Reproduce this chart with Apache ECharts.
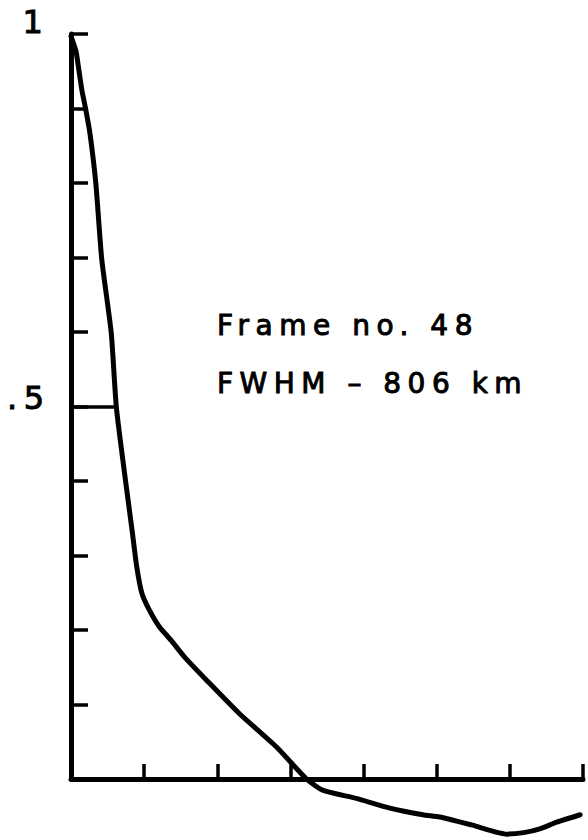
<!DOCTYPE html>
<html>
<head>
<meta charset="utf-8">
<script src="https://cdn.jsdelivr.net/npm/echarts@6/dist/echarts.min.js"></script>
<style>
  html, body { margin: 0; padding: 0; background: #fff; }
  #chart { width: 588px; height: 840px; }
  #chart text { letter-spacing: 6.5px; }
</style>
</head>
<body>
<div id="chart"></div>
<script>
// Profile (normalised intensity vs distance, arbitrary x units)
const xValues = [0, 0.068, 0.11, 0.15, 0.205, 0.26, 0.34, 0.42, 0.55, 0.62, 0.75, 0.84, 0.90, 0.97, 1.07, 1.21, 1.37, 1.55, 1.85, 2.30, 2.81, 3.22, 3.44, 3.90, 4.36, 4.81, 5.04, 5.49, 5.96, 6.19, 6.41, 6.64, 6.96];
const yValues = [0.997, 0.977, 0.950, 0.924, 0.897, 0.866, 0.799, 0.698, 0.599, 0.499, 0.397, 0.330, 0.284, 0.249, 0.227, 0.204, 0.186, 0.164, 0.133, 0.088, 0.043, 0.0, -0.015, -0.026, -0.039, -0.048, -0.051, -0.062, -0.074, -0.072, -0.067, -0.058, -0.048];
const halfMax = 0.5;
const halfMaxX = 0.62;
const yTickLabels = { '1': '1', '0.5': '.5' };
const annotationLines = ['Frame no. 48', 'FWHM – 806 km'];

const data = xValues.map((x, i) => [x, yValues[i]]);

const chart = echarts.init(document.getElementById('chart'), null, { renderer: 'svg' });
chart.setOption({
  backgroundColor: '#ffffff',
  animation: false,
  grid: { left: 71, right: 5, top: 34, bottom: 61, containLabel: false },
  xAxis: {
    type: 'value', min: 0, max: 7, interval: 1,
    axisLine: { show: true, onZero: false, lineStyle: { color: '#000', width: 5 } },
    axisTick: { show: true, inside: true, length: 15, lineStyle: { color: '#000', width: 3.5 } },
    axisLabel: { show: false },
    splitLine: { show: false }
  },
  yAxis: {
    type: 'value', min: 0, max: 1, interval: 0.1,
    axisLine: { show: true, lineStyle: { color: '#000', width: 5 } },
    axisTick: { show: true, inside: true, length: 17, lineStyle: { color: '#000', width: 3.5 } },
    axisLabel: { show: false },
    splitLine: { show: false }
  },
  series: [{
    type: 'line',
    data: data,
    smooth: 0.2,
    showSymbol: false,
    symbol: 'none',
    clip: false,
    lineStyle: { color: '#000', width: 5, join: 'round', cap: 'round' },
    markLine: {
      silent: true,
      symbol: 'none',
      label: { show: false },
      lineStyle: { color: '#000', width: 3.5, type: 'solid' },
      data: [[{ coord: [0, halfMax] }, { coord: [halfMaxX, halfMax] }]]
    }
  }]
});

// axis labels and annotation as text
const p1 = chart.convertToPixel({ gridIndex: 0 }, [0, 1]);
const p5 = chart.convertToPixel({ gridIndex: 0 }, [0, 0.5]);
const txt = (extra) => Object.assign({ fill: '#000', stroke: '#000', lineWidth: 1 }, extra);
chart.setOption({
  graphic: [
    { type: 'text', left: 22, top: p1[1] - 29, style: txt({ text: yTickLabels['1'], font: '32px "DejaVu Sans"' }) },
    { type: 'text', x: 7, y: p5[1] - 9, style: txt({ text: yTickLabels['0.5'], font: '32px "DejaVu Sans"', verticalAlign: 'middle' }) },
    { type: 'text', x: 217, y: 325, style: txt({ text: annotationLines[0], font: '28px "DejaVu Sans"', verticalAlign: 'middle' }) },
    { type: 'text', x: 217, y: 383, style: txt({ text: annotationLines[1], font: '28px "DejaVu Sans"', verticalAlign: 'middle' }) }
  ]
});
</script>
</body>
</html>
